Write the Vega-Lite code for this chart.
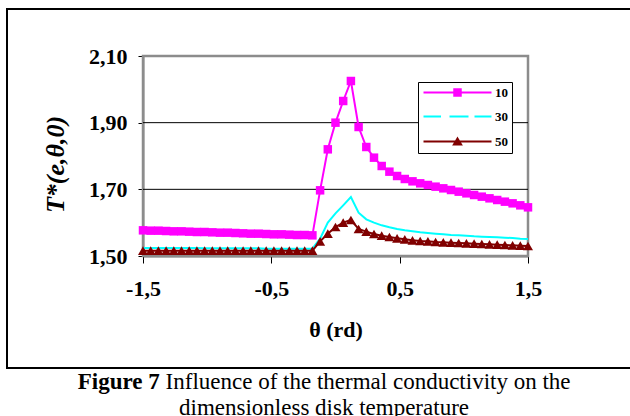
{
  "$schema": "https://vega.github.io/schema/vega-lite/v6.json",
  "background": "white",
  "padding": {"left": 6, "top": 8, "right": 0, "bottom": 0},
  "spacing": 0,
  "config": {
    "font": "Liberation Serif",
    "view": {"stroke": "black", "strokeWidth": 2}
  },
  "datasets": {
    "curves": [
      {"t": -1.5, "10": 1.577, "30": 1.524, "50": 1.516},
      {"t": -1.44, "10": 1.576, "30": 1.524, "50": 1.516},
      {"t": -1.38, "10": 1.576, "30": 1.524, "50": 1.516},
      {"t": -1.32, "10": 1.575, "30": 1.524, "50": 1.516},
      {"t": -1.26, "10": 1.574, "30": 1.524, "50": 1.516},
      {"t": -1.2, "10": 1.574, "30": 1.524, "50": 1.516},
      {"t": -1.14, "10": 1.573, "30": 1.524, "50": 1.516},
      {"t": -1.08, "10": 1.572, "30": 1.524, "50": 1.516},
      {"t": -1.02, "10": 1.572, "30": 1.523, "50": 1.516},
      {"t": -0.96, "10": 1.571, "30": 1.523, "50": 1.516},
      {"t": -0.9, "10": 1.57, "30": 1.523, "50": 1.516},
      {"t": -0.84, "10": 1.57, "30": 1.523, "50": 1.516},
      {"t": -0.78, "10": 1.569, "30": 1.523, "50": 1.516},
      {"t": -0.72, "10": 1.568, "30": 1.523, "50": 1.516},
      {"t": -0.66, "10": 1.567, "30": 1.523, "50": 1.516},
      {"t": -0.6, "10": 1.567, "30": 1.523, "50": 1.516},
      {"t": -0.54, "10": 1.566, "30": 1.522, "50": 1.516},
      {"t": -0.48, "10": 1.565, "30": 1.522, "50": 1.516},
      {"t": -0.42, "10": 1.565, "30": 1.522, "50": 1.516},
      {"t": -0.36, "10": 1.564, "30": 1.522, "50": 1.516},
      {"t": -0.3, "10": 1.563, "30": 1.522, "50": 1.516},
      {"t": -0.24, "10": 1.563, "30": 1.522, "50": 1.516},
      {"t": -0.18, "10": 1.562, "30": 1.522, "50": 1.516},
      {"t": -0.12, "10": 1.697, "30": 1.552, "50": 1.544},
      {"t": -0.06, "10": 1.82, "30": 1.6, "50": 1.567},
      {"t": 0, "10": 1.9, "30": 1.628, "50": 1.587},
      {"t": 0.06, "10": 1.965, "30": 1.652, "50": 1.6},
      {"t": 0.12, "10": 2.025, "30": 1.677, "50": 1.608},
      {"t": 0.18, "10": 1.887, "30": 1.63, "50": 1.581},
      {"t": 0.24, "10": 1.827, "30": 1.61, "50": 1.573},
      {"t": 0.3, "10": 1.795, "30": 1.6, "50": 1.566},
      {"t": 0.36, "10": 1.77, "30": 1.592, "50": 1.561},
      {"t": 0.42, "10": 1.753, "30": 1.586, "50": 1.557},
      {"t": 0.48, "10": 1.74, "30": 1.581, "50": 1.553},
      {"t": 0.54, "10": 1.731, "30": 1.577, "50": 1.55},
      {"t": 0.6, "10": 1.724, "30": 1.574, "50": 1.547},
      {"t": 0.66, "10": 1.718, "30": 1.571, "50": 1.545},
      {"t": 0.72, "10": 1.713, "30": 1.569, "50": 1.544},
      {"t": 0.78, "10": 1.708, "30": 1.567, "50": 1.542},
      {"t": 0.84, "10": 1.703, "30": 1.565, "50": 1.541},
      {"t": 0.9, "10": 1.698, "30": 1.563, "50": 1.54},
      {"t": 0.96, "10": 1.693, "30": 1.562, "50": 1.539},
      {"t": 1.02, "10": 1.688, "30": 1.561, "50": 1.538},
      {"t": 1.08, "10": 1.683, "30": 1.559, "50": 1.537},
      {"t": 1.14, "10": 1.678, "30": 1.558, "50": 1.536},
      {"t": 1.2, "10": 1.673, "30": 1.557, "50": 1.535},
      {"t": 1.26, "10": 1.668, "30": 1.556, "50": 1.534},
      {"t": 1.32, "10": 1.663, "30": 1.555, "50": 1.533},
      {"t": 1.38, "10": 1.658, "30": 1.554, "50": 1.532},
      {"t": 1.44, "10": 1.652, "30": 1.552, "50": 1.531},
      {"t": 1.5, "10": 1.646, "30": 1.551, "50": 1.53}
    ],
    "grid": [{"g": 1.7}, {"g": 1.9}],
    "one": [{"k": 1}]
  },
  "vconcat": [
    {
      "width": 625,
      "height": 359,
      "layer": [
        {
          "data": {"name": "one"},
          "mark": {"type": "rect", "fill": "transparent", "stroke": "#8c8c8c", "strokeWidth": 2.5},
          "encoding": {
            "x": {"datum": -1.5, "type": "quantitative", "scale": {"domain": [-1.5, 1.5], "range": [136, 521], "nice": false, "zero": false}},
            "x2": {"datum": 1.5},
            "y": {"datum": 1.5, "type": "quantitative", "scale": {"domain": [1.5, 2.1], "range": [247, 47], "nice": false, "zero": false}},
            "y2": {"datum": 2.1}
          }
        },
        {
          "data": {"name": "grid"},
          "mark": {"type": "rule", "color": "black", "strokeWidth": 1},
          "encoding": {
            "y": {"field": "g", "type": "quantitative", "scale": {"domain": [1.5, 2.1], "range": [247, 47], "nice": false, "zero": false}},
            "x": {"datum": -1.5, "type": "quantitative", "scale": {"domain": [-1.5, 1.5], "range": [136, 521], "nice": false, "zero": false}},
            "x2": {"datum": 1.5}
          }
        },
        {
          "data": {"name": "curves"},
          "transform": [{"fold": ["10", "30", "50"], "as": ["series", "T"]}],
          "mark": {"type": "line", "strokeWidth": 2},
          "encoding": {
            "x": {
              "field": "t", "type": "quantitative",
              "scale": {"domain": [-1.5, 1.5], "range": [136, 521], "nice": false, "zero": false},
              "axis": {
                "values": [-1.5, -0.5, 0.5, 1.5],
                "labelExpr": "datum.value < 0 ? '-' + replace(format(-datum.value, '.1f'), '.', ',') : replace(format(datum.value, '.1f'), '.', ',')",
                "title": "θ (rd)",
                "offset": -112,
                "grid": false,
                "domainColor": "black", "domainWidth": 1.5,
                "tickColor": "black", "tickSize": 7,
                "labelPadding": 15, "labelFlush": false,
                "labelFont": "Liberation Serif", "labelFontSize": 22, "labelFontWeight": "bold", "labelColor": "black",
                "titleFont": "Liberation Serif", "titleFontSize": 22, "titleFontWeight": "bold", "titleColor": "black",
                "titlePadding": 20
              }
            },
            "y": {
              "field": "T", "type": "quantitative",
              "scale": {"domain": [1.5, 2.1], "range": [247, 47], "nice": false, "zero": false},
              "axis": {
                "values": [1.5, 1.7, 1.9, 2.1],
                "labelExpr": "replace(format(datum.value, '.2f'), '.', ',')",
                "title": "T*(e,θ,0)",
                "offset": -136,
                "grid": false,
                "domainColor": "black", "domainWidth": 1.5,
                "tickColor": "black", "tickSize": 5,
                "labelPadding": 11,
                "labelFont": "Liberation Serif", "labelFontSize": 22, "labelFontWeight": "bold", "labelColor": "black",
                "titleFont": "Liberation Serif", "titleFontSize": 26, "titleFontWeight": "bold", "titleFontStyle": "italic", "titleColor": "black",
                "titlePadding": 20,
                "titleY": 155
              }
            },
            "color": {
              "field": "series", "type": "nominal",
              "scale": {"domain": ["10", "30", "50"], "range": ["#FF00FF", "#00FFFF", "#800000"]},
              "legend": {
                "title": null,
                "orient": "none",
                "legendX": 411,
                "legendY": 73,
                "padding": 4,
                "strokeColor": "black",
                "fillColor": "white",
                "symbolSize": 100,
                "symbolStrokeWidth": 2,
                "symbolOffset": 29,
                "labelOffset": 31,
                "rowPadding": 10,
                "labelFont": "Liberation Serif",
                "labelFontSize": 13,
                "labelFontWeight": "bold",
                "labelColor": "black",
                "encode": {
                  "symbols": {
                    "update": {
                      "shape": {"signal": "datum.value === '10' ? 'M-6.8,0H6.8M-0.65,-0.65H0.65V0.65H-0.65Z' : datum.value === '30' ? 'M-6.8,0H-3.3M-1.6,0H2.2M3.4,0H6.8' : 'M-6.8,0H6.8M0,-0.6L0.72,0.6H-0.72Z'"},
                      "fill": {"signal": "datum.value === '10' ? '#FF00FF' : datum.value === '30' ? '#00FFFF' : '#800000'"},
                      "stroke": {"signal": "datum.value === '10' ? '#FF00FF' : datum.value === '30' ? '#00FFFF' : '#800000'"},
                      "strokeWidth": {"value": 2},
                      "opacity": {"value": 1}
                    }
                  }
                }
              }
            }
          }
        },
        {
          "data": {"name": "curves"},
          "transform": [{"fold": ["10", "30", "50"], "as": ["series", "T"]}, {"filter": "datum.series === '10'"}],
          "mark": {"type": "point", "shape": "square", "filled": true, "size": 72, "color": "#FF00FF", "opacity": 1},
          "encoding": {
            "x": {"field": "t", "type": "quantitative", "scale": {"domain": [-1.5, 1.5], "range": [136, 521], "nice": false, "zero": false}},
            "y": {"field": "T", "type": "quantitative", "scale": {"domain": [1.5, 2.1], "range": [247, 47], "nice": false, "zero": false}}
          }
        },
        {
          "data": {"name": "curves"},
          "transform": [{"fold": ["10", "30", "50"], "as": ["series", "T"]}, {"filter": "datum.series === '50'"}],
          "mark": {"type": "point", "shape": "triangle-up", "filled": true, "size": 100, "color": "#800000", "opacity": 1},
          "encoding": {
            "x": {"field": "t", "type": "quantitative", "scale": {"domain": [-1.5, 1.5], "range": [136, 521], "nice": false, "zero": false}},
            "y": {"field": "T", "type": "quantitative", "scale": {"domain": [1.5, 2.1], "range": [247, 47], "nice": false, "zero": false}}
          }
        }
      ]
    },
    {
      "width": 625,
      "height": 49,
      "data": {"name": "one"},
      "layer": [
        {
          "mark": {"type": "text", "text": "Figure 7", "font": "Liberation Serif", "fontSize": 23, "fontWeight": "bold", "align": "right", "baseline": "alphabetic", "dx": -159.7, "dy": -5, "color": "black"},
          "encoding": {}
        },
        {
          "mark": {"type": "text", "text": "Influence of the thermal conductivity on the", "font": "Liberation Serif", "fontSize": 23, "align": "left", "baseline": "alphabetic", "dx": -153.9, "dy": -5, "color": "black"},
          "encoding": {}
        },
        {
          "mark": {"type": "text", "text": "dimensionless disk temperature", "font": "Liberation Serif", "fontSize": 23, "align": "center", "baseline": "alphabetic", "dx": 4.5, "dy": 21, "color": "black"},
          "encoding": {}
        }
      ]
    }
  ]
}
